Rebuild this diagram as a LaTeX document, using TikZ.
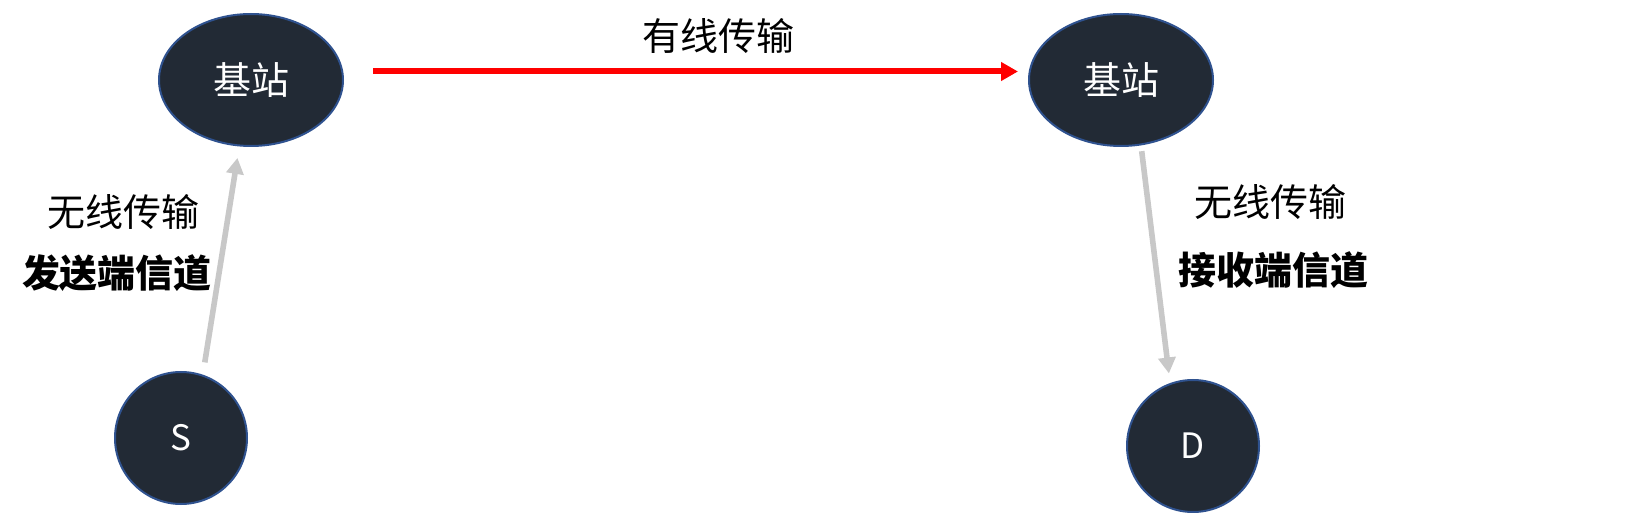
\documentclass[tikz,border=0pt]{standalone}
\usepackage{fontspec}
\setmainfont{Noto Sans CJK SC}
\usetikzlibrary{shapes.geometric,arrows.meta}
\definecolor{nodefill}{HTML}{222A35}
\definecolor{nodeline}{HTML}{2F528F}
\definecolor{wirelessgray}{RGB}{200,200,200}
\definecolor{wiredred}{HTML}{FF0000}
\tikzset{
  station/.style={ellipse, fill=nodefill, draw=nodeline, line width=1pt,
    minimum width=92pt, minimum height=66pt, inner sep=0pt, text=white,
    font=\fontsize{19pt}{23pt}\selectfont},
  terminal/.style={circle, fill=nodefill, draw=nodeline, line width=1pt,
    minimum size=66pt, inner sep=0pt, text=white,
    font=\fontsize{17.5pt}{21pt}\selectfont},
  lbl/.style={font=\fontsize{19pt}{23pt}\selectfont, inner sep=0pt},
  boldlbl/.style={font=\fontsize{19pt}{23pt}\selectfont\bfseries, inner sep=0pt},
  wireless/.style={draw=wirelessgray, line width=2.8pt,
    -{Triangle[length=8pt,width=8.5pt]}},
  wired/.style={draw=wiredred, line width=3pt,
    -{Triangle[length=8.5pt,width=9pt]}}
}
\begin{document}
\begin{tikzpicture}[x=0.5pt,y=-0.5pt]
\useasboundingbox (0,0) rectangle (1635,513);
\node[station] (bs1) at (251,80) {基站};
\node[station] (bs2) at (1121,80) {基站};
\node[terminal] (S) at (181,438) {S};
\node[terminal] (D) at (1193,446) {D};
\node[lbl] (wl1) at (123,212) {无线传输};
\node[boldlbl] (ch1) at (117,273) {发送端信道};
\node[lbl] (wl2) at (1270,202) {无线传输};
\node[boldlbl] (ch2) at (1273,270) {接收端信道};
\node[lbl] (wired) at (718,36) {有线传输};
\draw[wireless, shorten <=6.2pt, shorten >=5.8pt] (S.71) -- (bs1.260);
\draw[wireless, shorten <=2.9pt, shorten >=4.8pt] (bs2.-73) -- (D.110);
\draw[wired, shorten <=14.5pt, shorten >=5pt] ([yshift=4.25pt]bs1.east) -- ([yshift=4.25pt]bs2.west);
\end{tikzpicture}
\end{document}
